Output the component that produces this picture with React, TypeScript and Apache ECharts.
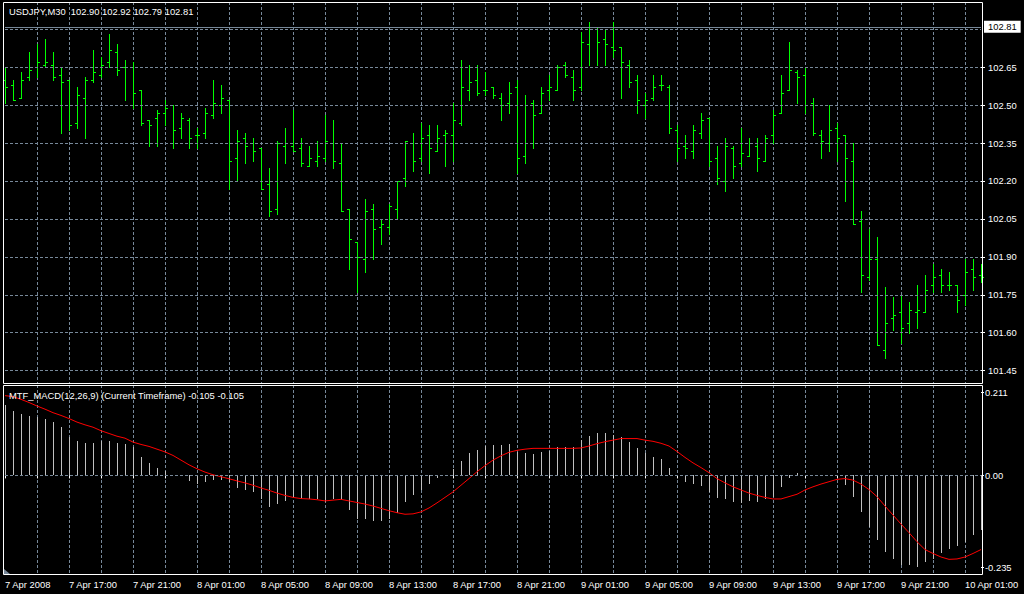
import React, { useEffect, useRef } from 'react';
import * as echarts from 'echarts';

const symbolTitle = 'USDJPY,M30  102.90 102.92 102.79 102.81';
const macdTitle = 'MTF_MACD(12,26,9) (Current Timeframe) -0.105 -0.105';
const bidPrice = 102.81;

const opens = [
  102.60, 102.58, 102.53, 102.61, 102.65, 102.66, 102.66, 102.62, 102.60, 102.43,
  102.53, 102.60, 102.62, 102.67, 102.71, 102.65, 102.65, 102.56, 102.44, 102.45,
  102.47, 102.50, 102.41, 102.44, 102.38, 102.39, 102.46, 102.50, 102.52, 102.29,
  102.37, 102.35, 102.33, 102.19, 102.09, 102.34, 102.34, 102.33, 102.26, 102.28,
  102.29, 102.35, 102.27, 102.09, 101.96, 101.89, 102.09, 102.02, 102.02, 102.09,
  102.21, 102.35, 102.29, 102.38, 102.32, 102.38, 102.38, 102.43, 102.56, 102.60,
  102.56, 102.57, 102.53, 102.51, 102.57, 102.30, 102.51, 102.47, 102.56, 102.56,
  102.66, 102.61, 102.57, 102.74, 102.80, 102.76, 102.73, 102.73, 102.66, 102.60,
  102.50, 102.53, 102.58, 102.57, 102.40, 102.34, 102.32, 102.39, 102.45, 102.29,
  102.20, 102.33, 102.27, 102.30, 102.34, 102.28, 102.38, 102.47, 102.56, 102.63,
  102.62, 102.51, 102.38, 102.35, 102.41, 102.38, 102.28, 102.04, 101.82, 101.89,
  101.53, 101.66, 101.68, 101.64, 101.68, 101.68, 101.79, 101.83, 101.79, 101.79,
  101.75, 101.85, 101.83,
];
const highs = [
  102.65, 102.60, 102.63, 102.71, 102.74, 102.76, 102.71, 102.65, 102.60, 102.57,
  102.61, 102.72, 102.69, 102.78, 102.74, 102.68, 102.67, 102.56, 102.44, 102.48,
  102.52, 102.50, 102.47, 102.45, 102.41, 102.49, 102.60, 102.58, 102.52, 102.40,
  102.39, 102.37, 102.33, 102.25, 102.36, 102.41, 102.48, 102.37, 102.34, 102.36,
  102.46, 102.44, 102.35, 102.09, 101.96, 102.13, 102.11, 102.05, 102.11, 102.20,
  102.36, 102.39, 102.43, 102.42, 102.42, 102.40, 102.51, 102.68, 102.66, 102.66,
  102.63, 102.57, 102.55, 102.59, 102.60, 102.54, 102.52, 102.57, 102.62, 102.66,
  102.67, 102.64, 102.79, 102.83, 102.81, 102.80, 102.83, 102.73, 102.68, 102.62,
  102.55, 102.62, 102.62, 102.58, 102.42, 102.38, 102.42, 102.47, 102.45, 102.34,
  102.37, 102.34, 102.41, 102.37, 102.37, 102.38, 102.48, 102.62, 102.75, 102.64,
  102.65, 102.53, 102.40, 102.50, 102.43, 102.38, 102.35, 102.08, 102.01, 101.98,
  101.78, 101.74, 101.75, 101.72, 101.79, 101.83, 101.87, 101.85, 101.84, 101.79,
  101.89, 101.89, 101.87,
];
const lows = [
  102.51, 102.52, 102.53, 102.60, 102.61, 102.65, 102.60, 102.39, 102.40, 102.41,
  102.37, 102.59, 102.61, 102.65, 102.62, 102.52, 102.49, 102.42, 102.34, 102.34,
  102.42, 102.33, 102.37, 102.33, 102.33, 102.37, 102.45, 102.47, 102.17, 102.20,
  102.27, 102.28, 102.17, 102.06, 102.07, 102.27, 102.32, 102.26, 102.26, 102.26,
  102.28, 102.25, 102.08, 101.85, 101.76, 101.84, 101.89, 101.95, 101.99, 102.05,
  102.18, 102.24, 102.28, 102.23, 102.32, 102.26, 102.28, 102.42, 102.52, 102.54,
  102.54, 102.53, 102.44, 102.47, 102.23, 102.27, 102.33, 102.47, 102.52, 102.56,
  102.61, 102.52, 102.56, 102.66, 102.66, 102.66, 102.69, 102.53, 102.57, 102.47,
  102.45, 102.52, 102.56, 102.39, 102.28, 102.29, 102.29, 102.37, 102.26, 102.19,
  102.16, 102.21, 102.26, 102.30, 102.24, 102.28, 102.35, 102.47, 102.56, 102.51,
  102.47, 102.38, 102.29, 102.32, 102.28, 102.12, 102.03, 101.76, 101.81, 101.55,
  101.50, 101.61, 101.56, 101.60, 101.62, 101.68, 101.76, 101.76, 101.77, 101.68,
  101.71, 101.77, 101.80,
];
const closes = [
  102.57, 102.52, 102.60, 102.64, 102.67, 102.67, 102.61, 102.59, 102.42, 102.54,
  102.60, 102.63, 102.66, 102.72, 102.64, 102.65, 102.55, 102.43, 102.42, 102.47,
  102.49, 102.40, 102.45, 102.37, 102.38, 102.47, 102.51, 102.53, 102.28, 102.36,
  102.34, 102.32, 102.17, 102.08, 102.35, 102.35, 102.32, 102.27, 102.29, 102.30,
  102.36, 102.28, 102.08, 101.97, 101.90, 102.08, 102.01, 102.03, 102.10, 102.20,
  102.36, 102.28, 102.37, 102.33, 102.37, 102.39, 102.44, 102.57, 102.59, 102.55,
  102.56, 102.54, 102.50, 102.55, 102.29, 102.50, 102.46, 102.55, 102.57, 102.65,
  102.62, 102.56, 102.75, 102.81, 102.75, 102.74, 102.72, 102.67, 102.59, 102.52,
  102.52, 102.57, 102.58, 102.41, 102.33, 102.33, 102.40, 102.44, 102.28, 102.21,
  102.34, 102.26, 102.31, 102.35, 102.29, 102.37, 102.46, 102.55, 102.64, 102.61,
  102.50, 102.39, 102.36, 102.40, 102.37, 102.29, 102.03, 101.83, 101.89, 101.55,
  101.64, 101.67, 101.62, 101.69, 101.69, 101.77, 101.82, 101.79, 101.79, 101.73,
  101.84, 101.82, 101.82,
];

const macdHist = [
  0.180, 0.164, 0.157, 0.152, 0.150, 0.143, 0.135, 0.123, 0.099, 0.088,
  0.083, 0.083, 0.088, 0.088, 0.083, 0.080, 0.073, 0.046, 0.031, 0.020,
  0.012, 0.001, -0.002, -0.014, -0.022, -0.018, -0.012, -0.012, -0.016, -0.031,
  -0.037, -0.043, -0.059, -0.080, -0.072, -0.065, -0.054, -0.059, -0.061, -0.061,
  -0.067, -0.059, -0.063, -0.088, -0.110, -0.110, -0.116, -0.116, -0.110, -0.097,
  -0.067, -0.050, -0.037, -0.022, -0.006, 0.000, 0.017, 0.037, 0.058, 0.066,
  0.075, 0.077, 0.077, 0.080, 0.060, 0.058, 0.054, 0.060, 0.063, 0.073,
  0.073, 0.073, 0.090, 0.100, 0.107, 0.109, 0.103, 0.099, 0.086, 0.071,
  0.058, 0.046, 0.042, 0.020, 0.000, -0.016, -0.023, -0.027, -0.043, -0.057,
  -0.059, -0.068, -0.070, -0.065, -0.067, -0.059, -0.054, -0.029, -0.006, 0.005,
  0.001, 0.000, -0.001, 0.000, 0.000, -0.025, -0.054, -0.093, -0.131, -0.165,
  -0.195, -0.212, -0.229, -0.229, -0.233, -0.221, -0.212, -0.199, -0.187, -0.180,
  -0.171, -0.151, -0.138,
];
const macdSignal = [
  0.2035, 0.201, 0.194, 0.186, 0.177, 0.169, 0.160, 0.153, 0.145, 0.136,
  0.129, 0.123, 0.114, 0.107, 0.100, 0.095, 0.085, 0.079, 0.074, 0.067,
  0.060, 0.051, 0.039, 0.027, 0.017, 0.0085, 0.0017, -0.0034, -0.0085, -0.014,
  -0.019, -0.025, -0.032, -0.038, -0.045, -0.051, -0.056, -0.059, -0.060, -0.062,
  -0.065, -0.063, -0.061, -0.065, -0.069, -0.073, -0.078, -0.084, -0.090, -0.095,
  -0.099, -0.098, -0.093, -0.083, -0.070, -0.056, -0.042, -0.025, -0.008, 0.0094,
  0.025, 0.039, 0.050, 0.059, 0.064, 0.067, 0.069, 0.069, 0.069, 0.069,
  0.069, 0.069, 0.070, 0.075, 0.081, 0.086, 0.090, 0.094, 0.094, 0.094,
  0.090, 0.087, 0.082, 0.075, 0.061, 0.046, 0.032, 0.020, 0.007, -0.008,
  -0.019, -0.029, -0.037, -0.045, -0.051, -0.056, -0.060, -0.060, -0.054, -0.048,
  -0.037, -0.029, -0.022, -0.016, -0.010, -0.008, -0.012, -0.022, -0.036, -0.054,
  -0.078, -0.101, -0.124, -0.146, -0.169, -0.189, -0.199, -0.208, -0.214, -0.213,
  -0.208, -0.199, -0.189,
];

const priceTicks = [102.65, 102.5, 102.35, 102.2, 102.05, 101.9, 101.75, 101.6, 101.45];
const priceGridLevels = [102.8, 102.65, 102.5, 102.35, 102.2, 102.05, 101.9, 101.75, 101.6, 101.45];
const macdTicks = [0.211, 0, -0.235];
const macdTickLabels = ['0.211', '0.00', '-0.235'];
const timeTickLabels = [
  '7 Apr 2008', '7 Apr 17:00', '7 Apr 21:00', '8 Apr 01:00', '8 Apr 05:00', '8 Apr 09:00',
  '8 Apr 13:00', '8 Apr 17:00', '8 Apr 21:00', '9 Apr 01:00', '9 Apr 05:00', '9 Apr 09:00',
  '9 Apr 13:00', '9 Apr 17:00', '9 Apr 21:00', '10 Apr 01:00',
];

// bar times: M30 bars from 7 Apr 2008 13:00
const barTimes = opens.map((_, i) => {
  const m = 13 * 60 + 30 * i;
  const day = 7 + Math.floor(m / 1440);
  const mm = m % 1440;
  const hh = String(Math.floor(mm / 60)).padStart(2, '0');
  const mi = String(mm % 60).padStart(2, '0');
  return `${day} Apr ${hh}:${mi}`;
});

const FONT = 'Liberation Sans';
const FS = 9.4;
const GRID_COLOR = '#778899';
const BAR_GREEN = '#00ff00';
const HIST_GRAY = '#c0c0c0';
const DASH = [3, 2];

export default function App() {
  const ref = useRef<HTMLDivElement>(null);
  useEffect(() => {
    if (!ref.current) return;
    const chart = echarts.init(ref.current, null, { renderer: 'svg' });
    const ohlcData = opens.map((o, i) => [i, o, highs[i], lows[i], closes[i]]);
    const histData = macdHist.map((v, i) => [i, v]);
    const vSplit = {
      show: true,
      interval: (i: number) => i > 0 && i % 4 === 0,
      lineStyle: { color: GRID_COLOR, type: DASH, width: 1 },
    };
    const solidFill = (color: string) => ({ fill: color, stroke: 'none', lineWidth: 0, opacity: 1 });
    const option: any = {
      animation: false,
      backgroundColor: '#000000',
      grid: [
        { left: 5, right: 43, top: 2, height: 381, containLabel: false, outerBoundsMode: 'none' },
        { left: 5, right: 43, top: 385, height: 190, containLabel: false, outerBoundsMode: 'none' },
      ],
      xAxis: [
        {
          type: 'category', gridIndex: 0, data: barTimes, boundaryGap: false,
          axisLine: { show: false }, axisTick: { show: false }, axisLabel: { show: false },
          splitLine: vSplit,
        },
        {
          type: 'category', gridIndex: 1, data: barTimes, boundaryGap: false,
          axisLine: { show: false },
          axisTick: { show: true, interval: (i: number) => i % 4 === 0, length: 3, lineStyle: { color: '#ffffff' } },
          axisLabel: {
            show: true, interval: (i: number) => i % 8 === 0,
            formatter: (_v: string, i: number) => timeTickLabels[Math.round(i / 8)] ?? '',
            color: '#ffffff', fontFamily: FONT, fontSize: FS, align: 'left', margin: 5,
          },
          splitLine: vSplit,
        },
      ],
      yAxis: [
        {
          type: 'value', gridIndex: 0, position: 'right', min: 101.401, max: 102.908,
          axisLine: { show: false }, splitLine: { show: false },
          axisTick: { show: true, customValues: priceTicks, length: 4, lineStyle: { color: '#ffffff' } },
          axisLabel: {
            show: true, customValues: priceTicks, formatter: (v: number) => v.toFixed(2),
            color: '#ffffff', fontFamily: FONT, fontSize: FS, margin: 7,
          },
        },
        {
          type: 'value', gridIndex: 1, position: 'right', min: -0.2539, max: 0.2306,
          axisLine: { show: false }, splitLine: { show: false },
          axisTick: { show: true, customValues: macdTicks, length: 3, lineStyle: { color: '#ffffff' } },
          axisLabel: {
            show: true, customValues: macdTicks,
            formatter: (v: number) => {
              const k = macdTicks.findIndex((t) => Math.abs(t - v) < 1e-6);
              return k >= 0 ? macdTickLabels[k] : '';
            },
            color: '#ffffff', fontFamily: FONT, fontSize: FS, margin: 4,
          },
        },
      ],
      series: [
        {
          type: 'line', xAxisIndex: 0, yAxisIndex: 0, data: [], z: 1, silent: true,
          markLine: {
            silent: true, symbol: 'none', animation: false,
            label: { show: false },
            lineStyle: { color: GRID_COLOR, type: DASH, width: 1 },
            data: [
              ...priceGridLevels.map((v) => ({ yAxis: v })),
              {
                yAxis: bidPrice,
                lineStyle: { color: GRID_COLOR, type: 'solid', width: 1 },
                label: {
                  show: true, position: 'end', distance: 3, formatter: bidPrice.toFixed(2),
                  backgroundColor: '#ffffff', color: '#000000', padding: [2, 4, 1, 4],
                  fontFamily: FONT, fontSize: FS,
                },
              },
            ],
          },
        },
        {
          type: 'custom', xAxisIndex: 0, yAxisIndex: 0, data: ohlcData, z: 3, silent: true,
          encode: { x: 0, y: [1, 2, 3, 4] },
          itemStyle: { color: BAR_GREEN, borderWidth: 0, opacity: 1 },
          renderItem: (_params: any, api: any) => {
            const i = api.value(0);
            const o = api.coord([i, api.value(1)]);
            const h = api.coord([i, api.value(2)]);
            const l = api.coord([i, api.value(3)]);
            const c = api.coord([i, api.value(4)]);
            const x0 = Math.round(h[0]);
            const yh = Math.round(h[1]);
            const yl = Math.round(l[1]);
            const oy = Math.round(o[1]);
            const cy = Math.round(c[1]);
            return {
              type: 'group',
              children: [
                { type: 'rect', shape: { x: x0, y: yh, width: 1, height: Math.max(1, yl - yh + 1) }, style: solidFill(BAR_GREEN) },
                { type: 'rect', shape: { x: x0 - 2, y: oy, width: 2, height: 1 }, style: solidFill(BAR_GREEN) },
                { type: 'rect', shape: { x: x0 + 1, y: cy, width: 2, height: 1 }, style: solidFill(BAR_GREEN) },
              ],
            };
          },
        },
        {
          type: 'line', xAxisIndex: 1, yAxisIndex: 1, data: [], z: 1, silent: true,
          markLine: {
            silent: true, symbol: 'none', animation: false,
            label: { show: false },
            lineStyle: { color: GRID_COLOR, type: DASH, width: 1 },
            data: [{ yAxis: 0 }],
          },
        },
        {
          type: 'custom', xAxisIndex: 1, yAxisIndex: 1, data: histData, z: 3, silent: true,
          encode: { x: 0, y: 1 },
          itemStyle: { color: HIST_GRAY, borderWidth: 0, opacity: 1 },
          renderItem: (_params: any, api: any) => {
            const i = api.value(0);
            const p0 = api.coord([i, 0]);
            const p1 = api.coord([i, api.value(1)]);
            const x0 = Math.round(p0[0]);
            const y0 = Math.round(p0[1]);
            const y1 = Math.round(p1[1]);
            return {
              type: 'rect',
              shape: { x: x0, y: Math.min(y0, y1), width: 1, height: Math.abs(y1 - y0) },
              style: solidFill(HIST_GRAY),
            };
          },
        },
        {
          type: 'line', xAxisIndex: 1, yAxisIndex: 1, data: macdSignal, z: 4, silent: true,
          symbol: 'none', showSymbol: false, smooth: false,
          lineStyle: { color: '#ff0000', width: 1 },
        },
      ],
      graphic: [
        { type: 'rect', z: 50, silent: true, shape: { x: 3.5, y: 2.5, width: 979, height: 381 }, style: { fill: 'none', stroke: '#ffffff', lineWidth: 1 } },
        { type: 'rect', z: 50, silent: true, shape: { x: 3.5, y: 385.5, width: 979, height: 189 }, style: { fill: 'none', stroke: '#ffffff', lineWidth: 1 } },
        { type: 'polygon', z: 50, silent: true, shape: { points: [[4, 569], [4, 574], [10, 574]] }, style: { fill: GRID_COLOR } },
        {
          type: 'text', z: 60, silent: true, x: 9, y: 11,
          style: { text: symbolTitle, fill: '#ffffff', fontFamily: FONT, fontSize: FS, verticalAlign: 'middle', textVerticalAlign: 'middle' },
        },
        {
          type: 'text', z: 60, silent: true, x: 9, y: 395,
          style: { text: macdTitle, fill: '#ffffff', fontFamily: FONT, fontSize: FS, verticalAlign: 'middle', textVerticalAlign: 'middle' },
        },
      ],
    };
    chart.setOption(option);
    return () => chart.dispose();
  }, []);
  return (
    <div
      ref={ref}
      style={{ position: 'absolute', left: 0, top: 0, width: 1024, height: 594, background: '#000' }}
    />
  );
}
